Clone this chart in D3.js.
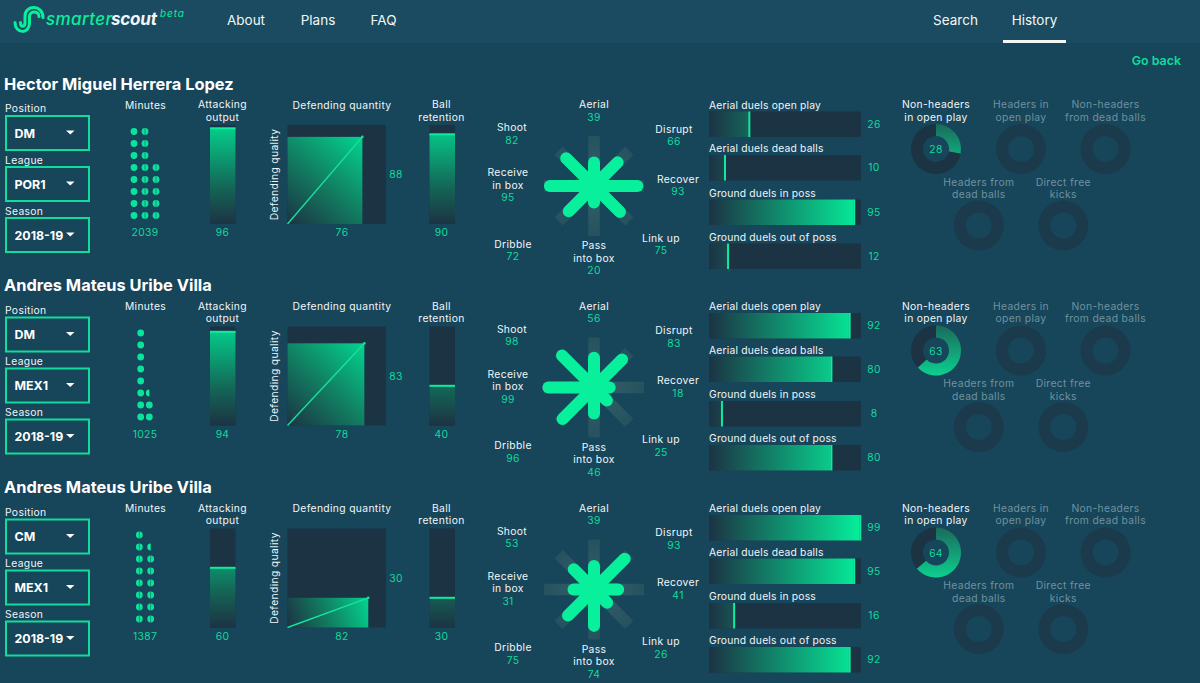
<!DOCTYPE html>
<html>
<head>
<meta charset="utf-8">
<script src="https://cdnjs.cloudflare.com/ajax/libs/d3/7.8.5/d3.min.js"></script>
<style>
  html, body { margin: 0; padding: 0; background: #17455a; }
  svg { display: block; }
  text { font-family: Inter, "Open Sans", sans-serif; }
</style>
</head>
<body>
<div id="chart"></div>
<script>
// chart values, one entry per player row
const players = ['Hector Miguel Herrera Lopez', 'Andres Mateus Uribe Villa', 'Andres Mateus Uribe Villa'];
const positions = ['DM', 'DM', 'CM'];
const leagues = ['POR1', 'MEX1', 'MEX1'];
const seasons = ['2018-19', '2018-19', '2018-19'];
const minutes = [2039, 1025, 1387];
const minuteDots = [21, 10.5, 14.5];
const attackingOutput = [96, 94, 60];
const defendingQuantity = [76, 78, 82];
const defendingQuality = [88, 83, 30];
const ballRetention = [90, 40, 30];

// clockwise from the top
const styleLabels = [['Aerial'], ['Disrupt'], ['Recover'], ['Link up'], ['Pass', 'into box'], ['Dribble'], ['Receive', 'in box'], ['Shoot']];
const styleValues = [
  [39, 66, 93, 75, 20, 72, 95, 82],
  [56, 83, 18, 25, 46, 96, 99, 98],
  [39, 93, 41, 26, 74, 75, 31, 53]
];

const duelLabels = ['Aerial duels open play', 'Aerial duels dead balls', 'Ground duels in poss', 'Ground duels out of poss'];
const duelValues = [
  [26, 10, 95, 12],
  [92, 80, 8, 80],
  [99, 95, 16, 92]
];

const shotLabels = [['Non-headers', 'in open play'], ['Headers in', 'open play'], ['Non-headers', 'from dead balls'], ['Headers from', 'dead balls'], ['Direct free', 'kicks']];
const shotValues = [
  [28, null, null, null, null],
  [63, null, null, null, null],
  [64, null, null, null, null]
];

const navLeft = ['About', 'Plans', 'FAQ'];
const navRight = ['Search', 'History'];

// layout
const width = 1200, height = 683;
const rowOffset = [0, 201.5, 403.5];
const dotSpan = [11, 4.3, 5.7];
const dotSlitFrom = [1, 99, 0];
const LINE = 12.6;

const GREEN = '#0fdc9c', BRIGHT = '#08f09b', TRACK = '#1c3344', WHITE = '#f2f6f7', MUTED = '#6f929f';

const svg = d3.select('#chart').append('svg')
  .attr('width', width)
  .attr('height', height)
  .attr('viewBox', `0 0 ${width} ${height}`);
const defs = svg.append('defs');

svg.append('rect').attr('width', width).attr('height', height).attr('fill', '#17455a');
svg.append('rect').attr('width', width).attr('height', 43).attr('fill', '#1a4b60');

// userSpaceOnUse, so coordinates are those of the element that uses it
function gradient(id, x1, y1, x2, y2, stops) {
  const g = defs.append('linearGradient').attr('id', id)
    .attr('gradientUnits', 'userSpaceOnUse')
    .attr('x1', x1).attr('y1', y1).attr('x2', x2).attr('y2', y2);
  stops.forEach(s => g.append('stop').attr('offset', s[0]).attr('stop-color', s[1]));
  return `url(#${id})`;
}

function label(g, lines, x, y, opts = {}) {
  return lines.map((line, i) => g.append('text')
    .attr('x', x)
    .attr('y', y + i * LINE)
    .attr('text-anchor', opts.anchor || 'middle')
    .attr('dominant-baseline', 'central')
    .attr('font-size', opts.size || 10.3)
    .attr('font-weight', opts.weight || 400)
    .attr('letter-spacing', opts.spacing === undefined ? 0.35 : opts.spacing)
    .attr('fill', opts.fill || WHITE)
    .text(line));
}

// header
const logo = svg.append('g');
['M15 22.5 C15 34 29.5 34.5 29.5 23 V16.5 C29.5 10.5 39 10.5 39 16.5',
 'M20.5 22.5 C20.5 27.5 25 27.5 25 22.5 V16 C25 4.5 43 4.5 43 17.5'].forEach(d => {
  logo.append('path').attr('d', d)
    .attr('fill', 'none').attr('stroke', BRIGHT).attr('stroke-width', 3).attr('stroke-linecap', 'round');
});
logo.append('text').attr('x', 46).attr('y', 25).attr('font-size', 17).attr('font-style', 'italic')
  .attr('font-weight', 500).attr('fill', BRIGHT).attr('textLength', 66).text('smarter');
logo.append('text').attr('x', 111).attr('y', 25).attr('font-size', 17).attr('font-style', 'italic')
  .attr('font-weight', 700).attr('fill', WHITE).attr('textLength', 46).text('scout');
logo.append('text').attr('x', 160).attr('y', 17).attr('font-size', 10).attr('font-style', 'italic')
  .attr('fill', BRIGHT).attr('textLength', 24).text('beta');

navLeft.forEach((d, i) => label(svg, [d], [246, 318, 383.5][i], 20, { size: 13.5, spacing: 0 }));
navRight.forEach((d, i) => label(svg, [d], [955.5, 1034.5][i], 20, { size: 13.5, spacing: 0 }));
svg.append('rect').attr('x', 1003).attr('y', 40).attr('width', 63).attr('height', 3).attr('fill', WHITE);
label(svg, ['Go back'], 1181, 60, { anchor: 'end', size: 12.4, weight: 600, fill: GREEN, spacing: 0 });

const pct = d3.scaleLinear().domain([0, 100]);

players.forEach((name, r) => {
  const g = svg.append('g').attr('transform', `translate(0,${rowOffset[r]})`);

  label(g, [name], 4, 83.5, { anchor: 'start', size: 16.4, weight: 700, fill: '#ffffff', spacing: 0 });

  // dropdowns
  [['Position', positions[r], 108, 116], ['League', leagues[r], 159.5, 167], ['Season', seasons[r], 210.5, 218]].forEach(s => {
    label(g, [s[0]], 5, s[2], { anchor: 'start' });
    g.append('rect').attr('x', 6).attr('y', s[3]).attr('width', 83).attr('height', 34)
      .attr('fill', 'none').attr('stroke', '#12dc9b').attr('stroke-width', 2);
    label(g, [s[1]], 14.5, s[3] + 17, { anchor: 'start', size: 12.4, weight: 700, fill: '#ffffff', spacing: 0 });
    g.append('path')
      .attr('d', d3.line()([[66, s[3] + 14.5], [74.5, s[3] + 14.5], [70.25, s[3] + 18.5]]) + 'Z')
      .attr('fill', '#ffffff');
  });

  // minutes
  label(g, ['Minutes'], 145.5, 104.5);
  const nCols = Math.ceil(minuteDots[r] / 8);
  const colX = d3.scalePoint().domain(d3.range(nCols)).range([145 - dotSpan[r], 145 + dotSpan[r]]);
  const rowY = d3.scalePoint().domain(d3.range(8)).range([215.5, 131.5]);
  d3.range(Math.ceil(minuteDots[r])).forEach(i => {
    const col = Math.floor(i / 8), row = i % 8;
    const x = colX(col), y = rowY(row);
    if (minuteDots[r] - i < 1) {
      g.append('path')
        .attr('transform', `translate(${x},${y})`)
        .attr('d', d3.arc().innerRadius(0).outerRadius(3.4).startAngle(Math.PI).endAngle(2 * Math.PI)())
        .attr('fill', BRIGHT);
    } else {
      g.append('circle').attr('cx', x).attr('cy', y).attr('r', 3.4).attr('fill', '#0be39a');
      if (col >= dotSlitFrom[r]) {
        g.append('rect').attr('x', x - 0.35).attr('y', y - 3.4).attr('width', 0.7).attr('height', 6.8)
          .attr('fill', '#17455a').attr('opacity', 0.7);
      }
    }
  });
  label(g, [minutes[r]], 145, 232, { fill: GREEN });

  // vertical bars
  const bottom = 224;
  const barY = pct.copy().range([bottom, bottom - 100]);
  const barFill = gradient(`bar-${r}`, 0, bottom, 0, bottom - 100, [[0, TRACK], [0.35, '#146355'], [1, '#03d48e']]);
  [['Attacking', 'output', attackingOutput[r], 210, 222.5], ['Ball', 'retention', ballRetention[r], 429.5, 441.5]].forEach(b => {
    label(g, [b[0], b[1]], b[4], 104);
    g.append('rect').attr('x', b[3]).attr('y', bottom - 99).attr('width', 25.5).attr('height', 99).attr('fill', TRACK);
    const top = Math.max(barY(b[2]), bottom - 99);
    g.append('rect').attr('x', b[3]).attr('y', top).attr('width', 25.5).attr('height', bottom - top).attr('fill', barFill);
    g.append('rect').attr('x', b[3]).attr('y', top - 0.7).attr('width', 25.5).attr('height', 2).attr('fill', '#0eeb9e');
    label(g, [b[2]], b[4], 232, { fill: GREEN });
  });

  // defending square
  const sqX = pct.copy().range([287.5, 386]);
  const sqY = pct.copy().range([224, 125]);
  label(g, ['Defending quantity'], 342, 104.5);
  label(g, ['Defending quality'], 0, 0)[0].attr('transform', 'translate(274,174.5) rotate(-90)');
  g.append('rect').attr('x', sqX(0)).attr('y', sqY(100)).attr('width', sqX(100) - sqX(0)).attr('height', sqY(0) - sqY(100)).attr('fill', TRACK);
  const qx = sqX(defendingQuantity[r]), qy = sqY(defendingQuality[r]);
  const sqFill = gradient(`square-${r}`, sqX(0), sqY(0), qx, qy, [[0, TRACK], [0.45, '#12795f'], [1, '#03d48e']]);
  g.append('rect').attr('x', sqX(0)).attr('y', qy).attr('width', qx - sqX(0)).attr('height', sqY(0) - qy).attr('fill', sqFill);
  g.append('path').attr('d', d3.line()([[sqX(0), sqY(0)], [qx, qy]]))
    .attr('stroke', '#16e2a0').attr('stroke-width', 1.4).attr('fill', 'none');
  g.append('circle').attr('cx', qx).attr('cy', qy).attr('r', 1.3).attr('fill', '#16e2a0');
  label(g, [defendingQuantity[r]], 342, 232, { fill: GREEN });
  label(g, [defendingQuality[r]], 396, 174, { fill: GREEN });

  // style star
  const radius = pct.copy().range([15, 52]);
  const star = g.append('g').attr('transform', 'translate(594,186)');
  styleValues[r].forEach((v, i) => {
    const tip = d3.pointRadial(i * Math.PI / 4, 50);
    const spoke = gradient(`spoke-${r}-${i}`, 0, 0, tip[0], tip[1], [[0, '#35606b'], [1, '#26525f']]);
    star.append('path').attr('d', d3.line()([[0, 0], tip]))
      .attr('stroke', spoke).attr('stroke-width', 11.5).attr('fill', 'none');
  });
  styleValues[r].forEach((v, i) => {
    star.append('path').attr('d', d3.line()([[0, 0], d3.pointRadial(i * Math.PI / 4, radius(v) - 6)]))
      .attr('stroke', BRIGHT).attr('stroke-width', 12).attr('stroke-linecap', 'round').attr('fill', 'none');
  });
  const starPos = [[594, 104], [674, 128.5], [678, 178.5], [661, 237.5], [594, 245], [513, 243.5], [508, 172], [512, 127]];
  styleLabels.forEach((lines, i) => {
    const p = starPos[i];
    label(g, lines, p[0], p[1]);
    label(g, [styleValues[r][i]], p[0], p[1] + lines.length * LINE, { fill: GREEN });
  });

  // duel bars
  const duelX = pct.copy().range([709, 861]);
  const duelFill = gradient(`duel-${r}`, duelX(0), 0, duelX(100), 0, [[0, TRACK], [1, '#05f09b']]);
  duelLabels.forEach((d, i) => {
    const y = [111.5, 155, 199.5, 243.5][i];
    const v = duelValues[r][i];
    label(g, [d], 709, y - 7, { anchor: 'start', spacing: 0.2 });
    g.append('rect').attr('x', duelX(0)).attr('y', y).attr('width', duelX(100) - duelX(0)).attr('height', 25.5).attr('fill', TRACK);
    g.append('rect').attr('x', duelX(0)).attr('y', y).attr('width', duelX(v) - duelX(0)).attr('height', 25.5).attr('fill', duelFill);
    g.append('rect').attr('x', duelX(v) - 0.2).attr('y', y).attr('width', 2).attr('height', 25.5).attr('fill', '#0eeb9e');
    label(g, [v], 874, y + 12, { fill: GREEN });
  });

  // shot donuts
  const donutPos = [[936, 149], [1021, 149], [1105.5, 149], [978.8, 225.5], [1063.3, 225.5]];
  const arc = d3.arc().innerRadius(13).outerRadius(25);
  const pie = d3.pie().sort(null).startAngle(0).endAngle(2 * Math.PI);
  shotLabels.forEach((lines, i) => {
    const p = donutPos[i], v = shotValues[r][i];
    const on = v !== null;
    label(g, lines, p[0], p[1] - 45 + (i > 2 ? 1 : 0), { fill: on ? WHITE : MUTED });
    const d = g.append('g').attr('transform', `translate(${p[0]},${p[1]})`);
    const parts = pie(on ? [v, 100 - v] : [0, 100]);
    const donutFill = gradient(`donut-${r}-${i}`, 0, -25, 0, 25, [[0, '#1a6a5c'], [1, '#0cd08e']]);
    d.selectAll('path').data(parts).join('path')
      .attr('d', arc)
      .attr('fill', (e, j) => j === 0 ? donutFill : (on ? TRACK : '#1b3b4d'));
    if (on) label(d, [v], 0, 0, { fill: GREEN });
  });
});
</script>
</body>
</html>
